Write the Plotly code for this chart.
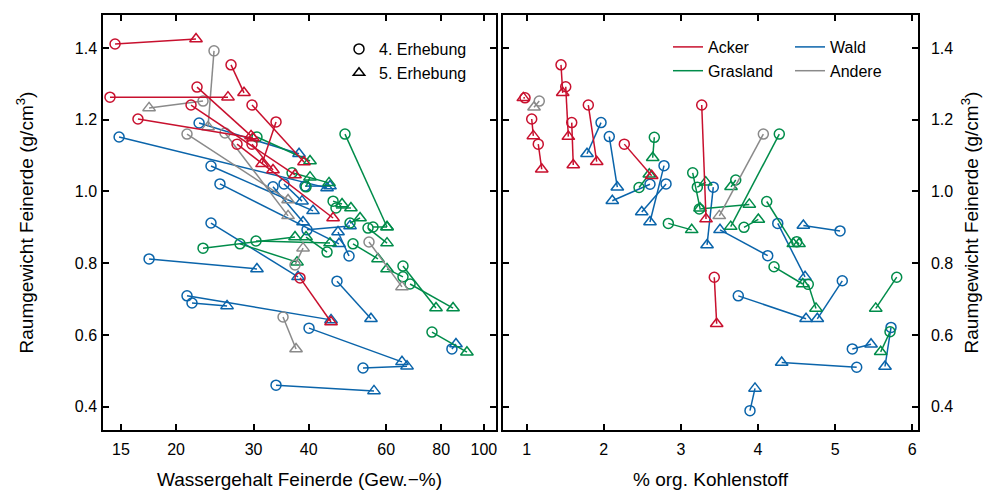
import plotly.graph_objects as go

# ---------------- Farben / Kategorien ----------------
nutzungen = ["Acker", "Grasland", "Wald", "Andere"]
farben = ["#C8102E", "#008C4A", "#0A64AA", "#8A8A8A"]

# ---------------- Linkes Panel: Wassergehalt (Gew.-%) vs. Raumgewicht ----------------
acker_w4 = [14.54, 14.16, 26.66, 22.32, 16.39, 21.63, 29.75, 33.73, 27.51, 29.75, 38.24]
acker_w5 = [22.2, 26.24, 28.53, 29.6, 29.9, 37.25, 39.04, 31.35, 45.45, 33.2, 44.97]
acker_rw4 = [1.411, 1.263, 1.353, 1.291, 1.202, 1.241, 1.241, 1.194, 1.132, 1.132, 0.759]
acker_rw5 = [1.425, 1.263, 1.275, 1.155, 1.149, 1.046, 1.082, 1.077, 0.926, 1.060, 0.636]

andere_w4 = [24.39, 23.03, 21.18, 25.84, 37.25, 34.99, 54.84]
andere_w5 = [23.64, 17.37, 35.92, 35.92, 38.85, 37.45, 65.16]
andere_rw4 = [1.392, 1.252, 1.160, 1.163, 0.795, 0.650, 0.859]
andere_rw5 = [1.180, 1.233, 0.976, 0.932, 0.842, 0.561, 0.734]

wald_w4 = [14.85, 22.56, 24.01, 25.16, 33.2, 35.17, 39.66, 49.4, 24.01, 17.37,
           21.18, 21.74, 33.73, 46.39, 40.08, 53.15, 84.6, 39.25]
wald_w5 = [44.04, 38.04, 40.93, 46.88, 38.85, 38.64, 49.66, 46.64, 37.84, 30.53,
           44.97, 26.11, 56.29, 55.41, 65.16, 66.9, 86.4, 44.73]
wald_rw4 = [1.152, 1.191, 1.071, 1.021, 1.013, 1.021, 0.893, 0.820, 0.912, 0.812,
            0.709, 0.689, 0.460, 0.750, 0.619, 0.508, 0.561, 1.015]
wald_rw5 = [1.010, 1.105, 0.946, 0.854, 0.915, 0.973, 0.904, 0.887, 0.762, 0.784,
            0.642, 0.681, 0.444, 0.645, 0.525, 0.513, 0.575, 1.015]

gras_w4 = [48.37, 30.53, 36.68, 39.46, 45.45, 46.15, 49.66, 54.56, 50.44, 56.0,
           65.5, 67.96, 65.5, 23.03, 27.94, 30.38, 44.04, 76.22]
gras_w5 = [60.26, 40.29, 44.5, 40.29, 47.63, 49.9, 52.33, 60.26, 57.48, 60.26,
           77.84, 85.1, 60.26, 37.25, 37.64, 44.73, 39.46, 91.5]
gras_rw4 = [1.160, 1.152, 1.052, 1.013, 0.973, 0.954, 0.912, 0.898, 0.854, 0.901,
            0.792, 0.742, 0.762, 0.842, 0.854, 0.862, 0.831, 0.608]
gras_rw5 = [0.901, 1.085, 1.024, 1.040, 0.965, 0.954, 0.926, 0.856, 0.812, 0.901,
            0.675, 0.675, 0.784, 0.873, 0.803, 0.856, 0.873, 0.552]

# ---------------- Rechtes Panel: % org. Kohlenstoff vs. Raumgewicht ----------------
acker_c4 = [0.978, 1.065, 1.150, 1.445, 1.506, 1.584, 1.799, 2.266, 3.270, 3.433]
acker_c5 = [0.956, 1.086, 1.195, 1.467, 1.540, 1.604, 1.908, 2.621, 3.326, 3.464]
acker_rc4 = [1.261, 1.202, 1.132, 1.353, 1.292, 1.192, 1.241, 1.132, 1.241, 0.761]
acker_rc5 = [1.261, 1.155, 1.062, 1.275, 1.153, 1.074, 1.083, 1.044, 0.923, 0.631]

andere_c4 = [1.163, 4.069]
andere_c5 = [1.095, 3.498]
andere_rc4 = [1.252, 1.160]
andere_rc5 = [1.235, 0.932]

wald_c4 = [1.964, 2.071, 2.599, 2.781, 2.807, 3.420, 4.126, 4.256, 5.064, 3.744,
           5.093, 5.223, 5.280, 5.725, 3.896]
wald_c5 = [1.782, 2.175, 2.110, 2.599, 2.492, 3.339, 3.507, 4.610, 4.588, 4.623,
           4.769, 5.466, 4.307, 5.647, 3.961]
wald_rc4 = [1.192, 1.153, 1.020, 1.072, 1.021, 1.012, 0.821, 0.911, 0.890, 0.709,
            0.751, 0.561, 0.510, 0.621, 0.389]
wald_rc5 = [1.105, 1.012, 0.974, 0.915, 0.943, 0.851, 0.893, 0.762, 0.905, 0.645,
            0.645, 0.574, 0.523, 0.512, 0.451]

gras_c4 = [2.655, 2.457, 2.837, 3.153, 3.213, 3.239, 3.711, 4.276, 3.818, 4.113,
           4.502, 4.208, 4.652, 5.799, 5.712]
gras_c5 = [2.634, 2.590, 3.140, 3.248, 3.322, 3.887, 3.650, 3.646, 4.004, 4.458,
           4.532, 4.580, 4.752, 5.527, 5.591]
gras_rc4 = [1.151, 1.011, 0.911, 1.052, 1.012, 0.951, 1.032, 1.160, 0.900, 0.972,
            0.860, 0.790, 0.741, 0.761, 0.609]
gras_rc5 = [1.094, 1.048, 0.893, 0.953, 1.026, 0.964, 1.013, 0.902, 0.922, 0.854,
            0.854, 0.742, 0.674, 0.674, 0.553]

# ---------------- Achsenbeschriftungen ----------------
x_links_ticks = [15, 20, 30, 40, 60, 80, 100]
x_rechts_ticks = [1, 2, 3, 4, 5, 6]
y_ticks = [0.4, 0.6, 0.8, 1.0, 1.2, 1.4]

links = {
    "Acker": (acker_w4, acker_w5, acker_rw4, acker_rw5),
    "Grasland": (gras_w4, gras_w5, gras_rw4, gras_rw5),
    "Wald": (wald_w4, wald_w5, wald_rw4, wald_rw5),
    "Andere": (andere_w4, andere_w5, andere_rw4, andere_rw5),
}
rechts = {
    "Acker": (acker_c4, acker_c5, acker_rc4, acker_rc5),
    "Grasland": (gras_c4, gras_c5, gras_rc4, gras_rc5),
    "Wald": (wald_c4, wald_c5, wald_rc4, wald_rc5),
    "Andere": (andere_c4, andere_c5, andere_rc4, andere_rc5),
}
farbe = dict(zip(nutzungen, farben))

FONT = "Liberation Sans, Arial, Helvetica, sans-serif"
fig = go.Figure()


def add_pairs(x4, x5, y4, y5, col, xa, ya):
    xs, ys = [], []
    for a, b, c, d in zip(x4, x5, y4, y5):
        xs += [a, b, None]
        ys += [c, d, None]
    fig.add_trace(go.Scatter(x=xs, y=ys, mode="lines", xaxis=xa, yaxis=ya,
                             line=dict(color=col, width=1.5), showlegend=False,
                             hoverinfo="skip"))
    fig.add_trace(go.Scatter(x=x4, y=y4, mode="markers", xaxis=xa, yaxis=ya,
                             marker=dict(symbol="circle-open", size=10, color=col,
                                         line=dict(width=1.5)),
                             showlegend=False))
    fig.add_trace(go.Scatter(x=x5, y=y5, mode="markers", xaxis=xa, yaxis=ya,
                             marker=dict(symbol="triangle-up-open", size=11, color=col,
                                         line=dict(width=1.5)),
                             showlegend=False))


for n in ["Wald", "Grasland", "Andere", "Acker"]:
    x4, x5, y4, y5 = links[n]
    add_pairs(x4, x5, y4, y5, farbe[n], "x", "y")
    x4, x5, y4, y5 = rechts[n]
    add_pairs(x4, x5, y4, y5, farbe[n], "x2", "y2")

# Legende: Erhebungen
for name, sym, grp in [("4. Erhebung", "circle-open", "a"), ("5. Erhebung", "triangle-up-open", "b")]:
    fig.add_trace(go.Scatter(x=[None], y=[None], mode="markers", name=name,
                             marker=dict(symbol=sym, size=10, color="black", line=dict(width=1.5)),
                             legend="legend", legendgroup=grp, xaxis="x", yaxis="y"))
# Legende: Nutzungen
for n, leg in [("Acker", "legend2"), ("Grasland", "legend2"), ("Wald", "legend3"), ("Andere", "legend3")]:
    fig.add_trace(go.Scatter(x=[None], y=[None], mode="lines", name=n,
                             line=dict(color=farbe[n], width=1.5),
                             legend=leg, legendgroup=n, xaxis="x2", yaxis="y2"))

axis_common = dict(showline=True, linecolor="black", linewidth=1.5, mirror="ticks",
                   ticks="inside", ticklen=6, tickwidth=1.5, tickcolor="black",
                   showgrid=False, zeroline=False, automargin=False,
                   tickfont=dict(size=16, color="black", family=FONT))
title_font = dict(size=19, color="black", family=FONT)

y_lo, y_hi = 0.335, 1.492

legend_common = dict(xanchor="left", yanchor="top", bgcolor="rgba(0,0,0,0)",
                     font=dict(size=16, family=FONT, color="black"), itemwidth=30,
                     tracegroupgap=0)

fig.update_layout(
    width=992, height=492,
    margin=dict(l=103, r=74, t=15, b=62, autoexpand=False),
    paper_bgcolor="white", plot_bgcolor="white",
    font=dict(family=FONT, color="black"),
    xaxis=dict(axis_common, type="log", domain=[0, 0.4822],
               range=[1.1352, 2.0274], tickvals=x_links_ticks,
               ticktext=[str(v) for v in x_links_ticks], ticklabelstandoff=4,
               title=dict(text="Wassergehalt Feinerde (Gew.−%)", font=title_font, standoff=16),
               anchor="y"),
    xaxis2=dict(axis_common, domain=[0.4908, 1], range=[0.6926, 6.075],
                tickvals=x_rechts_ticks, ticktext=[str(v) for v in x_rechts_ticks],
                ticklabelstandoff=4,
                title=dict(text="% org. Kohlenstoff", font=title_font, standoff=16),
                anchor="y2"),
    yaxis=dict(axis_common, range=[y_lo, y_hi], tickvals=y_ticks, tickformat=".1f",
               ticklabelstandoff=1, anchor="x",
               title=dict(text="Raumgewicht Feinerde (g/cm<sup>3</sup>)", font=title_font, standoff=36)),
    yaxis2=dict(axis_common, range=[y_lo, y_hi], tickvals=y_ticks, tickformat=".1f",
                ticklabelstandoff=8, anchor="x2", side="right",
                title=dict(text="Raumgewicht Feinerde (g/cm<sup>3</sup>)", font=title_font, standoff=12)),
    legend=dict(legend_common, x=(339 - 103) / 815, y=(430 - 32) / 415),
    legend2=dict(legend_common, x=(668 - 103) / 815, y=(430 - 30) / 415),
    legend3=dict(legend_common, x=(790 - 103) / 815, y=(430 - 30) / 415),
)

fig.write_html("out.html")
